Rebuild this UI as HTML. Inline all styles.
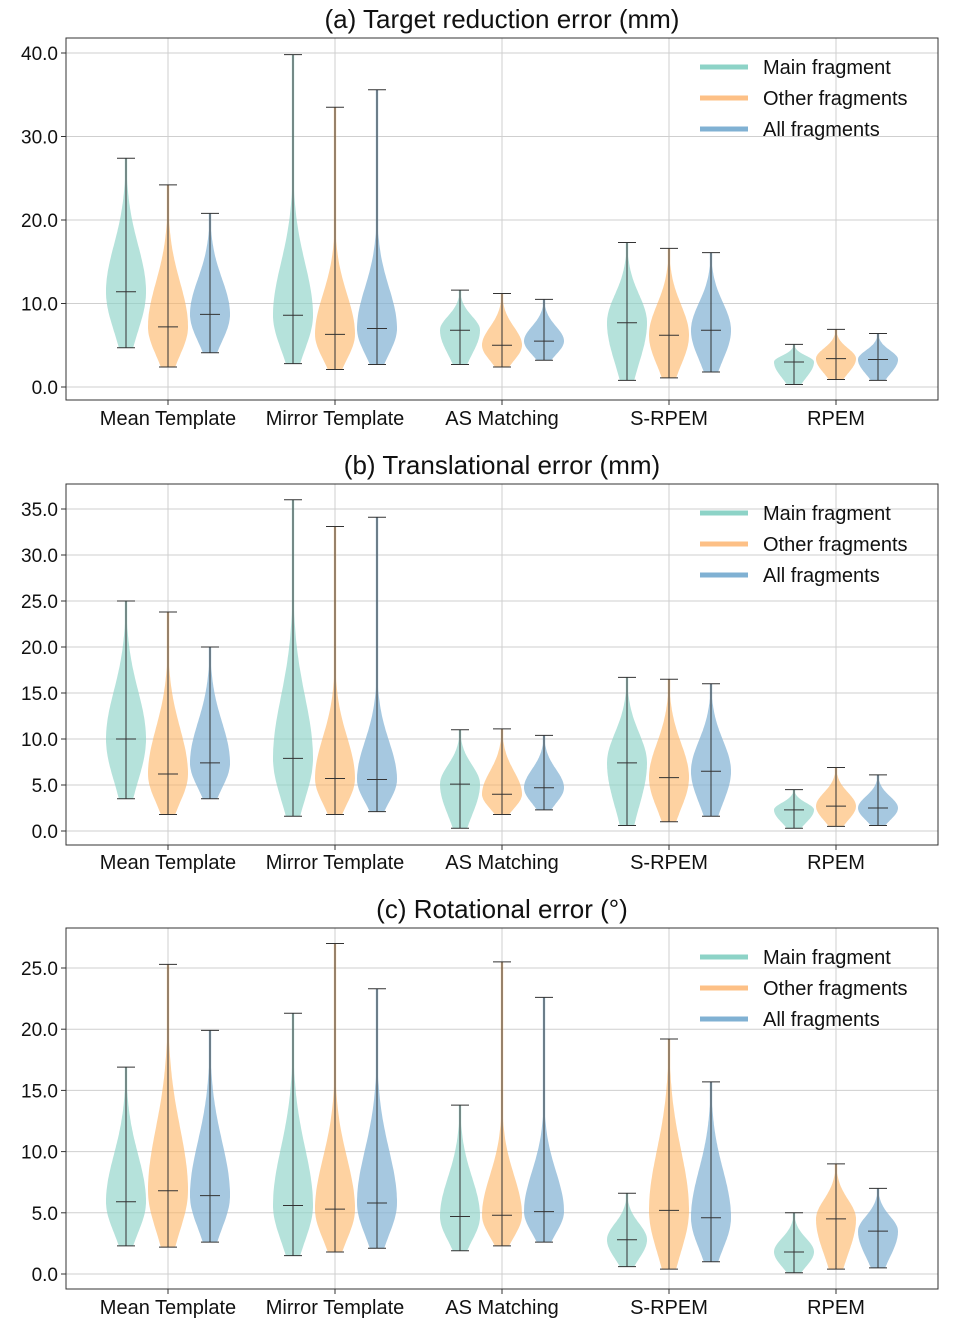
<!DOCTYPE html>
<html><head><meta charset="utf-8">
<style>
html,body{margin:0;padding:0;background:#fff;}
svg{display:block;font-family:"Liberation Sans",Arial,sans-serif;}
</style></head>
<body>
<svg id="chart" width="954" height="1334" viewBox="0 0 954 1334" xmlns="http://www.w3.org/2000/svg"></svg>
<script>
const categories = ["Mean Template","Mirror Template","AS Matching","S-RPEM","RPEM"];
const seriesNames = ["Main fragment","Other fragments","All fragments"];
const titles = ["(a) Target reduction error (mm)","(b) Translational error (mm)","(c) Rotational error (°)"];
const ticksA = [0,10,20,30,40];
const ticksB = [0,5,10,15,20,25,30,35];
const ticksC = [0,5,10,15,20,25];
// [min,max,median] per category, per series
const mainA  = [[4.7,27.4,11.4],[2.8,39.8,8.6],[2.7,11.6,6.8],[0.8,17.3,7.7],[0.3,5.1,3.0]];
const otherA = [[2.4,24.2,7.2],[2.1,33.5,6.3],[2.4,11.2,5.0],[1.1,16.6,6.2],[0.9,6.9,3.4]];
const allA   = [[4.1,20.8,8.7],[2.7,35.6,7.0],[3.2,10.5,5.5],[1.8,16.1,6.8],[0.8,6.4,3.3]];
const mainB  = [[3.5,25,10],[1.6,36,7.9],[0.3,11,5.1],[0.6,16.7,7.4],[0.3,4.5,2.3]];
const otherB = [[1.8,23.8,6.2],[1.8,33.1,5.7],[1.8,11.1,4.0],[1.0,16.5,5.8],[0.5,6.9,2.7]];
const allB   = [[3.5,20,7.4],[2.1,34.1,5.6],[2.3,10.4,4.7],[1.6,16,6.5],[0.6,6.1,2.5]];
const mainC  = [[2.3,16.9,5.9],[1.5,21.3,5.6],[1.9,13.8,4.7],[0.6,6.6,2.8],[0.1,5.0,1.8]];
const otherC = [[2.2,25.3,6.8],[1.8,27,5.3],[2.3,25.5,4.8],[0.4,19.2,5.2],[0.4,9.0,4.5]];
const allC   = [[2.6,19.9,6.4],[2.1,23.3,5.8],[2.6,22.6,5.1],[1.0,15.7,4.6],[0.5,7.0,3.5]];

const fills=["rgba(141,211,199,0.65)","rgba(253,180,98,0.6)","rgba(128,177,211,0.7)"];
const legendCols=["#8dd3c7","#fdc086","#80b1d3"];
const NS="http://www.w3.org/2000/svg";
const svg=document.getElementById("chart");
function mk(tag,attrs,parent){const e=document.createElementNS(NS,tag);for(const k in attrs)e.setAttribute(k,attrs[k]);(parent||svg).appendChild(e);return e;}

const panels=[
 {top:38,bot:400,y0:387,yTop:53,vTop:40,ticks:ticksA,data:[mainA,otherA,allA],title:titles[0],ty:28,lab:418},
 {top:484,bot:845,y0:831,yTop:509,vTop:35,ticks:ticksB,data:[mainB,otherB,allB],title:titles[1],ty:474,lab:862},
 {top:928,bot:1289,y0:1274,yTop:968,vTop:25,ticks:ticksC,data:[mainC,otherC,allC],title:titles[2],ty:918,lab:1307}
];
const X0=66,X1=938;
function xCat(i){return 168+i*167;}
const offs=[-42,0,42];

panels.forEach((p,pi)=>{
 const g=mk("g",{});
 
 
 const yS=v=>p.y0-(v/p.vTop)*(p.y0-p.yTop);
 const t=mk("text",{x:502,y:p.ty,"text-anchor":"middle","font-size":26,fill:"#111"},g);
 t.textContent=p.title;
 
 
 p.ticks.forEach(v=>{
  const y=yS(v);
  const l=mk("line",{x1:X0,x2:X1,y1:y,y2:y,stroke:"#cfcfcf","stroke-width":1},g);
  
  
  mk("line",{x1:X0-5,x2:X0,y1:y,y2:y,stroke:"#333"},g);
  const tx=mk("text",{x:58,y:y+7,"text-anchor":"end","font-size":19,fill:"#111"},g);
  tx.textContent=v.toFixed(1);
  
  
 });
 categories.forEach((c,i)=>{
  const x=xCat(i);
  const l=mk("line",{x1:x,x2:x,y1:p.top,y2:p.bot,stroke:"#cfcfcf"},g);
  
  
  mk("line",{x1:x,x2:x,y1:p.bot,y2:p.bot+5,stroke:"#333"},g);
  const tx=mk("text",{x:x,y:p.lab+7,"text-anchor":"middle","font-size":20,fill:"#111"},g);
  tx.textContent=c;
  
  
 });
 p.data.forEach((ser,si)=>{
  ser.forEach((d,ci)=>{
   const [mn,mx,md]=d;
   const cx=xCat(ci)+offs[si];
   const hw=20;
   const sl=Math.max((md-mn)*0.7,0.3);
   const su=Math.max(Math.min((mx-md)*0.35,(md-mn)*0.9+1),0.3);
   const N=80;const left=[],right=[];
   for(let k=0;k<=N;k++){
    const v=mn+(mx-mn)*k/N;
    const z=v<md?(md-v)/sl:(v-md)/su;
    let w=hw*Math.exp(-0.5*z*z);
    w=Math.max(w,1.2);
    const y=yS(v);
    left.push((cx-w).toFixed(1)+","+y.toFixed(1));
    right.unshift((cx+w).toFixed(1)+","+y.toFixed(1));
   }
   const vp=mk("polygon",{points:left.concat(right).join(" "),fill:fills[si],stroke:"none"},g);
   
   
   mk("line",{x1:cx,x2:cx,y1:yS(mn),y2:yS(mx),stroke:"#333","stroke-width":1},g);
   [mn,mx,md].forEach((v,j)=>{
    const ww=j===2?10:9;
    mk("line",{x1:cx-ww,x2:cx+ww,y1:yS(v),y2:yS(v),stroke:"#333","stroke-width":1},g);
   });
  });
 });
 const fr=mk("rect",{x:X0,y:p.top,width:X1-X0,height:p.bot-p.top,fill:"none",stroke:"#333","stroke-width":1},g);
 
 
 seriesNames.forEach((n,si)=>{
  const ly=p.top+29+si*31;
  const lg=mk("g",{},g);
  
  
  mk("line",{x1:700,x2:748,y1:ly,y2:ly,stroke:legendCols[si],"stroke-width":5},lg);
  const tx=mk("text",{x:763,y:ly+7,"font-size":20,fill:"#111"},lg);
  tx.textContent=n;
 });
});
</script>
</body></html>
